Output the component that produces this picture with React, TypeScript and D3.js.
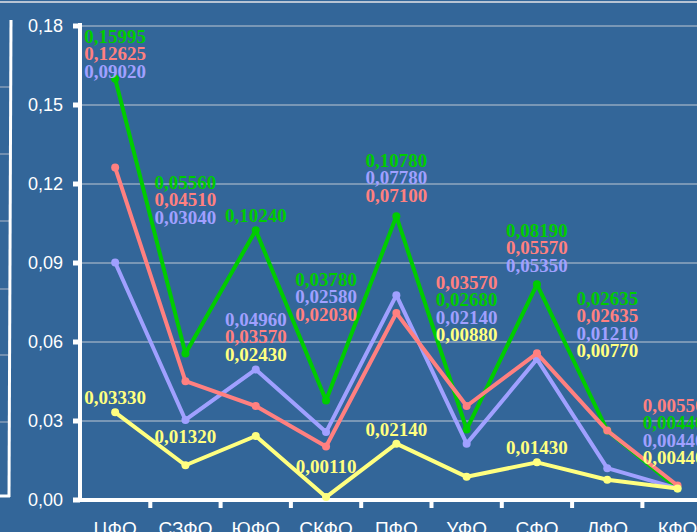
import * as React from 'react';
import * as d3 from 'd3';

const categories = ['ЦФО', 'СЗФО', 'ЮФО', 'СКФО', 'ПФО', 'УФО', 'СФО', 'ДФО', 'КФО'];
const greenValues = [0.15995, 0.0556, 0.1024, 0.0378, 0.1078, 0.0268, 0.0819, 0.02635, 0.0044];
const redValues = [0.12625, 0.0451, 0.0357, 0.0203, 0.071, 0.0357, 0.0557, 0.02635, 0.0055];
const blueValues = [0.0902, 0.0304, 0.0496, 0.0258, 0.0778, 0.0214, 0.0535, 0.0121, 0.0044];
const yellowValues = [0.0333, 0.0132, 0.0243, 0.0011, 0.0214, 0.0088, 0.0143, 0.0077, 0.0044];
const yTicks = [0, 0.03, 0.06, 0.09, 0.12, 0.15, 0.18];

// series in drawing order (back to front)
const series = [
    { key: 'g', values: greenValues, color: '#00cc00' },
    { key: 'b', values: blueValues, color: '#a0a0ff' },
    { key: 'r', values: redValues, color: '#ff8080' },
    { key: 'y', values: yellowValues, color: '#ffff80' },
];

// data label groups: category index, series stacked top to bottom, anchor value of first label
const labelGroups = [
    { cat: 0, order: ['g', 'r', 'b'], top: 0.1762 },
    { cat: 0, order: ['y'], top: 0.0391 },
    { cat: 1, order: ['g', 'r', 'b'], top: 0.1208 },
    { cat: 1, order: ['y'], top: 0.0243 },
    { cat: 2, order: ['g'], top: 0.1082 },
    { cat: 2, order: ['b', 'r', 'y'], top: 0.0687 },
    { cat: 3, order: ['g', 'b', 'r'], top: 0.0839 },
    { cat: 3, order: ['y'], top: 0.0129 },
    { cat: 4, order: ['g', 'b', 'r'], top: 0.1291 },
    { cat: 4, order: ['y'], top: 0.027 },
    { cat: 5, order: ['r', 'g', 'b', 'y'], top: 0.0828 },
    { cat: 6, order: ['g', 'r', 'b'], top: 0.1025 },
    { cat: 6, order: ['y'], top: 0.0201 },
    { cat: 7, order: ['g', 'r', 'b', 'y'], top: 0.0767 },
    { cat: 8, order: ['r', 'g', 'b', 'y'], top: 0.0361 },
];

const fmt = (v: number) => v.toFixed(5).replace('.', ',');

export default function App() {
    const width = 697;
    const height = 532;
    const margin = { left: 80, top: 26, bottom: 32 };
    const bandW = 70.3;

    const xScale = d3.scaleBand<string>()
        .domain(categories)
        .range([margin.left, margin.left + bandW * categories.length]);
    const yScale = d3.scaleLinear()
        .domain([0, 0.18])
        .range([height - margin.bottom, margin.top]);

    const cx = (i: number) => (xScale(categories[i]) as number) + xScale.bandwidth() / 2;
    const line = d3.line<number>()
        .x((_, i) => cx(i))
        .y((d) => yScale(d));

    const y0 = yScale(0);
    const bySeries: { [k: string]: typeof series[0] } = {};
    series.forEach((s) => { bySeries[s.key] = s; });

    return (
        <div style={{ position: 'fixed', left: 0, top: 0 }}>
            <svg width={width} height={height} style={{ display: 'block' }}>
                <rect x={0} y={0} width={width} height={height} fill="#336699" />
                <line x1={0} x2={width} y1={2} y2={2} stroke="#b8c4d4" strokeWidth={2} />

                {/* edge of the neighbouring panel */}
                {[87, 154, 221, 289, 355, 422].map((gy) => (
                    <line key={gy} x1={0} x2={10} y1={gy} y2={gy} stroke="#b0b8c8" strokeWidth={1} />
                ))}
                <line x1={11} x2={9} y1={20} y2={497} stroke="#fff" strokeWidth={3} />
                <line x1={0} x2={10} y1={496} y2={496} stroke="#fff" strokeWidth={3} />

                {yTicks.filter((t) => t > 0).map((t) => (
                    <line key={t} x1={margin.left} x2={width} y1={yScale(t)} y2={yScale(t)}
                        stroke="#c0c8d4" strokeWidth={1.2} />
                ))}

                {/* axes */}
                <line x1={margin.left} x2={margin.left} y1={yScale(0.18) - 3} y2={y0 + 2} stroke="#fff" strokeWidth={4} />
                <line x1={margin.left - 2} x2={width} y1={y0} y2={y0} stroke="#fff" strokeWidth={4} />
                {yTicks.map((t) => (
                    <g key={t}>
                        <line x1={margin.left - 7} x2={margin.left} y1={yScale(t)} y2={yScale(t)} stroke="#fff" strokeWidth={5} />
                        <text x={63} y={yScale(t)} dy="0.35em" textAnchor="end" fill="#fff"
                            fontFamily="'Liberation Sans', Arial, sans-serif" fontSize={18}>
                            {t.toFixed(2).replace('.', ',')}
                        </text>
                    </g>
                ))}
                {categories.slice(1).map((c) => (
                    <line key={c} x1={xScale(c)} x2={xScale(c)} y1={y0} y2={y0 + 8} stroke="#fff" strokeWidth={4} />
                ))}
                {categories.map((c, i) => (
                    <text key={c} x={cx(i)} y={535} textAnchor="middle" fill="#fff"
                        fontFamily="'Liberation Sans', Arial, sans-serif" fontSize={19}>
                        {c}
                    </text>
                ))}

                {/* series */}
                {series.map((s) => (
                    <g key={s.key}>
                        <path d={line(s.values) as string} fill="none" stroke={s.color} strokeWidth={4} strokeLinejoin="round" />
                        {s.values.map((v, i) => (
                            <circle key={i} cx={cx(i)} cy={yScale(v)} r={4} fill={s.color} />
                        ))}
                    </g>
                ))}

                {/* data labels */}
                {labelGroups.map((g, gi) =>
                    g.order.map((k, j) => (
                        <text key={gi + k} x={cx(g.cat) + (g.cat === 8 ? -4 : 0)} y={yScale(g.top) + j * 17.5} dy="0.35em"
                            textAnchor="middle" fill={bySeries[k].color}
                            fontFamily="'Liberation Serif', 'Times New Roman', serif" fontWeight="bold" fontSize={19}>
                            {fmt(bySeries[k].values[g.cat])}
                        </text>
                    ))
                )}
            </svg>
        </div>
    );
}
